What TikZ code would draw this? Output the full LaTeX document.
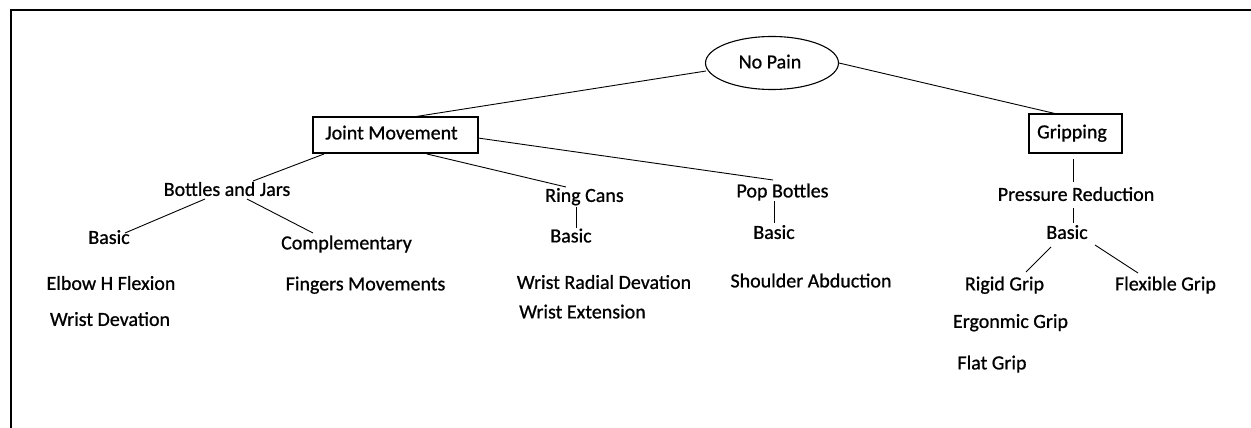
\documentclass[tikz,border=0pt]{standalone}
\usepackage{fontspec}
\setmainfont{Carlito}[FakeBold=0.8]
\usetikzlibrary{shapes.geometric}
\begin{document}
\begin{tikzpicture}[x=1pt,y=-1pt,
  lbl/.style={inner sep=0pt, text height=12.8pt, text depth=0pt, font=\fontsize{20}{23}\selectfont},
  boxed/.style={draw, line width=1.1pt, inner sep=0pt},
  conn/.style={line width=0.9pt}]
\useasboundingbox (0,0) rectangle (1251,428);
\draw[line width=2pt] (11,428) -- (11,10.5) -- (1251,10.5);
% main nodes
\node[boxed, ellipse, minimum width=133pt, minimum height=53pt] (np) at (772,63) {};
\node[lbl] (npt) at (770,62) {No Pain};
\node[boxed, rectangle, minimum width=165pt, minimum height=36pt] (jm) at (395.5,135) {};
\node[lbl] (jmt) at (391.5,133) {Joint Movement};
\node[boxed, rectangle, minimum width=93pt, minimum height=39pt] (gr) at (1075.5,133.5) {};
\node[lbl] (grt) at (1072,132) {Gripping};
% second level
\node[lbl] (bj) at (227,189.5) {Bottles and Jars};
\node[lbl] (rc) at (584.5,195.5) {Ring Cans};
\node[lbl] (pb) at (782.5,191) {Pop Bottles};
\node[lbl] (pr) at (1076,194.5) {Pressure Reduction};
% third level
\node[lbl] (b1) at (109,237.5) {Basic};
\node[lbl] (cm) at (346.5,243) {Complementary};
\node[lbl] (rcb) at (571,236) {Basic};
\node[lbl] (pbb) at (774,232.5) {Basic};
\node[lbl] (gb) at (1067,232.5) {Basic};
% leaves
\node[lbl] (ef) at (111,283.5) {Elbow H Flexion};
\node[lbl] (wd) at (110,319.5) {Wrist Devation};
\node[lbl] (fm) at (365.5,284) {Fingers Movements};
\node[lbl] (wr) at (604,282.5) {Wrist Radial Devation};
\node[lbl] (we) at (582.5,312) {Wrist Extension};
\node[lbl] (sa) at (811,281) {Shoulder Abduction};
\node[lbl] (rg) at (1004.5,284) {Rigid Grip};
\node[lbl] (fg) at (1165.5,284) {Flexible Grip};
\node[lbl] (eg) at (1010.5,321.5) {Ergonmic Grip};
\node[lbl] (fl) at (992,363) {Flat Grip};
% connectors
\draw[conn] ([shift={(-66,8)}]np.center) -- ([shift={(17.5,-18)}]jm.center);
\draw[conn] ([shift={(67,0)}]np.center) -- ([shift={(-18.5,-19.5)}]gr.center);
\draw[conn] ([shift={(-71.5,19)}]jm.center) -- ([shift={(26,-8.5)}]bj.center);
\draw[conn] ([shift={(31.5,19)}]jm.center) -- ([shift={(-18.5,-8.5)}]rc.center);
\draw[conn] ([shift={(82.5,3)}]jm.center) -- ([shift={(-9.5,-11)}]pb.center);
\draw[conn] ([shift={(-22,9.5)}]bj.center) -- ([shift={(16,-4.5)}]b1.center);
\draw[conn] ([shift={(20,9.5)}]bj.center) -- ([shift={(-33.5,-10)}]cm.center);
\draw[conn] ([shift={(-8.5,11.5)}]rc.center) -- ([shift={(5,-8)}]rcb.center);
\draw[conn] ([shift={(-8.5,10)}]pb.center) -- ([shift={(0,-9.5)}]pbb.center);
\draw[conn] ([shift={(-2.5,25.5)}]gr.center) -- ([shift={(-3,-12.5)}]pr.center);
\draw[conn] ([shift={(-3,13.5)}]pr.center) -- ([shift={(6,-9.5)}]gb.center);
\draw[conn] ([shift={(-16,14.5)}]gb.center) -- ([shift={(21.5,-12)}]rg.center);
\draw[conn] ([shift={(28,12.5)}]gb.center) -- ([shift={(-27.5,-11)}]fg.center);
\end{tikzpicture}
\end{document}
